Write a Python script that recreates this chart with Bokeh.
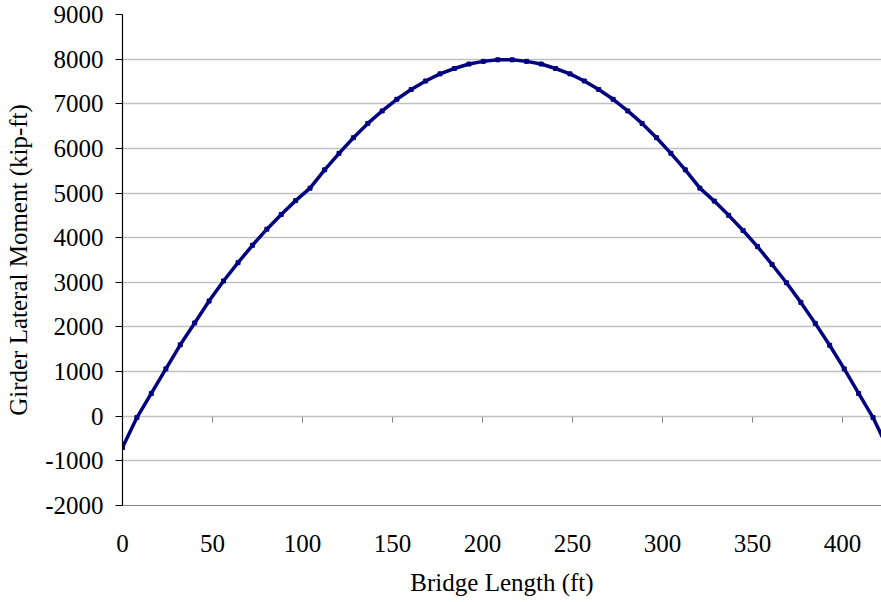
from bokeh.plotting import figure
from bokeh.models import Range1d, FixedTicker, LinearAxis
from bokeh.embed import file_html
from bokeh.resources import INLINE

# Bridge stations (ft) and girder lateral moment (kip-ft)
station_ft = [0, 8.0, 16.0, 24.1, 32.1, 40.1, 48.1, 56.1, 64.2, 72.2, 80.2, 88.2, 96.2, 104.2,
              112.3, 120.3, 128.3, 136.3, 144.3, 152.4, 160.4, 168.4, 176.4, 184.4, 192.5, 200.5,
              208.5, 216.5, 224.5, 232.6, 240.6, 248.6, 256.6, 264.6, 272.6, 280.7, 288.7, 296.7,
              304.7, 312.7, 320.8, 328.8, 336.8, 344.8, 352.8, 360.9, 368.9, 376.9, 384.9, 392.9,
              401.0, 409.0, 417.0, 425.0]
moment_kipft = [-700, -30, 510, 1060, 1600, 2090, 2580, 3030, 3440, 3830, 4190, 4520, 4830, 5110,
                5520, 5890, 6240, 6560, 6840, 7100, 7320, 7510, 7670, 7790, 7890, 7950,
                7985, 7985, 7950, 7890, 7790, 7670, 7510, 7320, 7100, 6840, 6560, 6240,
                5890, 5520, 5110, 4820, 4500, 4160, 3800, 3400, 2990, 2550, 2080, 1590,
                1060, 510, -30, -700]

x_ticks = [0, 50, 100, 150, 200, 250, 300, 350, 400]
y_ticks = [-2000, -1000, 0, 1000, 2000, 3000, 4000, 5000, 6000, 7000, 8000, 9000]

FONT = "Liberation Serif"
FS = "25px"

p = figure(width=881, height=602, output_backend="svg", toolbar_location=None,
           x_range=Range1d(0, 421.7), y_range=Range1d(-2000, 9000),
           min_border_left=122, min_border_right=0, min_border_top=14, min_border_bottom=97)
p.outline_line_color = None
p.background_fill_color = "white"
p.border_fill_color = "white"

# grid
p.xgrid.visible = False
p.ygrid.ticker = FixedTicker(ticks=y_ticks)
p.ygrid.grid_line_color = "#c0c0c0"
p.ygrid.grid_line_width = 1.3

# y axis
ya = p.yaxis[0]
ya.ticker = FixedTicker(ticks=y_ticks)
ya.major_label_overrides = {t: str(t) for t in y_ticks}
ya.axis_line_color = "black"
ya.axis_line_width = 1.2
ya.major_tick_line_color = "black"
ya.major_tick_out = 7
ya.major_tick_in = 0
ya.minor_tick_line_color = None
ya.major_label_text_font = FONT
ya.major_label_text_font_size = FS
ya.major_label_text_color = "black"
ya.major_label_standoff = 12
ya.axis_label = "Girder Lateral Moment (kip-ft)"
ya.axis_label_text_font = FONT
ya.axis_label_text_font_size = FS
ya.axis_label_text_font_style = "normal"
ya.axis_label_text_color = "black"
ya.axis_label_standoff = 10

# x axis with labels at the bottom
xa = p.xaxis[0]
xa.ticker = FixedTicker(ticks=x_ticks)
xa.major_label_overrides = {t: str(t) for t in x_ticks}
xa.axis_line_color = "#808080"
xa.major_tick_line_color = None
xa.major_tick_out = 0
xa.major_tick_in = 0
xa.minor_tick_line_color = None
xa.major_label_text_font = FONT
xa.major_label_text_font_size = FS
xa.major_label_text_color = "black"
xa.major_label_standoff = 29
xa.axis_label = "Bridge Length (ft)"
xa.axis_label_text_font = FONT
xa.axis_label_text_font_size = FS
xa.axis_label_text_font_style = "normal"
xa.axis_label_text_color = "black"
xa.axis_label_standoff = 14

# x axis line crossing at zero with tick marks
zero_axis = LinearAxis(fixed_location=0, ticker=FixedTicker(ticks=x_ticks),
                       axis_line_color="#808080", major_tick_line_color="#808080",
                       major_tick_out=6, major_tick_in=0, minor_tick_line_color=None,
                       major_label_text_font_size="0px", major_label_text_alpha=0,
                       level="underlay")
p.add_layout(zero_axis, "below")

p.line(station_ft, moment_kipft, line_color="#000080", line_width=3.5)
p.scatter(station_ft, moment_kipft, marker="square", size=4, fill_color="#000080",
          line_color="#000080")

open("out.html", "w").write(file_html(p, INLINE))
